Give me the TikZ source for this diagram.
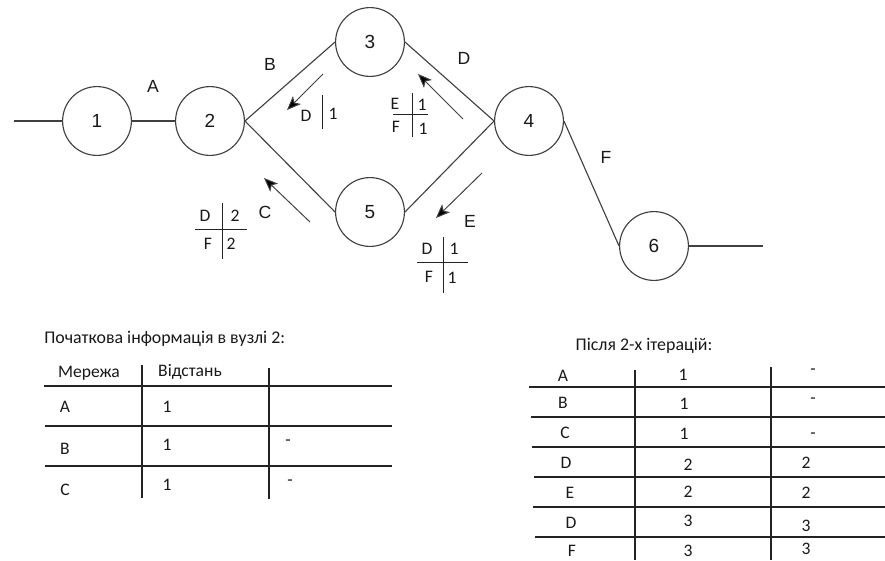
\documentclass[tikz,border=0pt]{standalone}
\usepackage{fontspec}
\setmainfont{Liberation Sans}
\newfontfamily\tblfont{Carlito}
\usetikzlibrary{arrows.meta,positioning}
\definecolor{edgec}{RGB}{64,64,64}
\definecolor{rulec}{RGB}{35,35,35}
\definecolor{txtc}{RGB}{25,25,25}

\begin{document}
\begin{tikzpicture}[
    x=0.025cm,y=-0.025cm,
    >=Stealth,
    vtx/.style={circle,draw=edgec,line width=0.8pt,minimum size=1.72cm,
                inner sep=0pt,text=txtc,font=\fontsize{13.5}{15}\selectfont},
    lnk/.style={draw=edgec,line width=0.8pt},
    elbl/.style={text=txtc,font=\fontsize{12.5}{14}\selectfont},
    msg/.style={-{Stealth[length=10pt,width=8pt,inset=2.5pt,fill=black]},edgec,line width=0.7pt},
    cell/.style={text=txtc,inner sep=0pt,font=\tblfont\fontsize{12.5}{14}\selectfont},
    ttl/.style={text=txtc,inner sep=0pt,font=\tblfont\fontsize{12.7}{15}\selectfont},
    tbl/.style={rulec,line width=0.8pt}
  ]
  \useasboundingbox (0,0) rectangle (885,560);
  \node[vtx] (n1) at (97,121)  {1};
  \node[vtx] (n2) at (210,121) {2};
  \node[vtx] (n3) at (370,42)  {3};
  \node[vtx] (n5) at (370,212) {5};
  \node[vtx] (n4) at (529,121) {4};
  \node[vtx] (n6) at (654,246) {6};
  \coordinate (inL)  at (14,121);
  \coordinate (outR) at (763,246);
  \draw[lnk] (inL) -- (n1);
  \draw[lnk] (n1) -- (n2);
  \draw[lnk] (n2.east) -- (n3.west);
  \draw[lnk] (n2.east) -- (n5.west);
  \draw[lnk] (n3.east) -- (n4.west);
  \draw[lnk] (n5.east) -- (n4.west);
  \draw[lnk] (n4.east) -- (n6.west);
  \draw[lnk] (n6) -- (outR);
  \node[elbl] (lA) at (153,86)  {A};
  \node[elbl] (lB) at (270,64)  {B};
  \node[elbl] (lC) at (265,212) {C};
  \node[elbl] (lD) at (464,58)  {D};
  \node[elbl] (lE) at (470,221) {E};
  \node[elbl] (lF) at (606,157) {F};
  \coordinate (m1s) at (323,74);  \coordinate (m1e) at (287,110);
  \coordinate (m2s) at (463,119); \coordinate (m2e) at (418,74);
  \coordinate (m3s) at (310,222); \coordinate (m3e) at (264,178);
  \coordinate (m4s) at (482,173); \coordinate (m4e) at (436,218);
  \draw[msg] (m1s) -- (m1e);
  \draw[msg] (m2s) -- (m2e);
  \draw[msg] (m3s) -- (m3e);
  \draw[msg] (m4s) -- (m4e);
  % vectors sent along the links
  \node[cell] (v1a) at (306,116) {D};
  \node[cell] (v1b) at (333,114) {1};
  \draw[tbl,line width=0.7pt] (322,95) -- (322,129);
  \node[cell] (v2a) at (395,104) {E};
  \node[cell] (v2b) at (422,105) {1};
  \node[cell] (v2c) at (396,127) {F};
  \node[cell] (v2d) at (423,129) {1};
  \draw[tbl,line width=0.7pt] (412,93) -- (412,137) (393,114) -- (428,114);
  \node[cell] (v3a) at (205,216) {D};
  \node[cell] (v3b) at (235,216) {2};
  \node[cell] (v3c) at (208,244) {F};
  \node[cell] (v3d) at (231,244) {2};
  \draw[tbl,line width=0.7pt] (222,203) -- (222,259) (195,229) -- (247,229);
  \node[cell] (v4a) at (427,249) {D};
  \node[cell] (v4b) at (454,249) {1};
  \node[cell] (v4c) at (429,277) {F};
  \node[cell] (v4d) at (452,278) {1};
  \draw[tbl,line width=0.7pt] (443,237) -- (443,293) (417,262) -- (468,262);
  % table at node 2
  \node[ttl,anchor=west] (t1) at (44,339) {Початкова інформація в вузлі 2:};
  \draw[tbl] (44,386) -- (392,386) (45,426) -- (392,426) (45,466) -- (392,466);
  \draw[tbl] (142,365) -- (142,498) (269,368) -- (269,499);
  \node[cell] (h1) at (89,373)  {Мережа};
  \node[cell] (h2) at (190,372) {Відстань};
  \node[cell] (r1a) at (65,407)  {A};
  \node[cell] (r1b) at (167,407) {1};
  \node[cell] (r2a) at (65,449)  {B};
  \node[cell] (r2b) at (167,445) {1};
  \node[cell] (r2c) at (288,443) {-};
  \node[cell] (r3a) at (65,490)  {C};
  \node[cell] (r3b) at (167,485) {1};
  \node[cell] (r3c) at (290,483) {-};
  % after two iterations
  \node[ttl] (t2) at (644,346) {Після 2-х ітерацій:};
  \draw[tbl] (529,387) -- (885,387) (531,417) -- (885,417) (532,447) -- (885,447)
             (534,477) -- (885,477) (533,507) -- (885,507) (535,537) -- (885,537);
  \draw[tbl] (635,370) -- (635,560) (771,367) -- (771,560);
  \node[cell] (s1a) at (563,376) {A};
  \node[cell] (s1b) at (683,375) {1};
  \node[cell] (s1c) at (813,372) {-};
  \node[cell] (s2a) at (563,403) {B};
  \node[cell] (s2b) at (684,404) {1};
  \node[cell] (s2c) at (813,401) {-};
  \node[cell] (s3a) at (565,433) {C};
  \node[cell] (s3b) at (684,434) {1};
  \node[cell] (s3c) at (813,436) {-};
  \node[cell] (s4a) at (566,463) {D};
  \node[cell] (s4b) at (688,465) {2};
  \node[cell] (s4c) at (806,463) {2};
  \node[cell] (s5a) at (570,493) {E};
  \node[cell] (s5b) at (688,492) {2};
  \node[cell] (s5c) at (806,493) {2};
  \node[cell] (s6a) at (571,523) {D};
  \node[cell] (s6b) at (688,521) {3};
  \node[cell] (s6c) at (806,526) {3};
  \node[cell] (s7a) at (572,551) {F};
  \node[cell] (s7b) at (688,551) {3};
  \node[cell] (s7c) at (806,549) {3};
\end{tikzpicture}
\end{document}
